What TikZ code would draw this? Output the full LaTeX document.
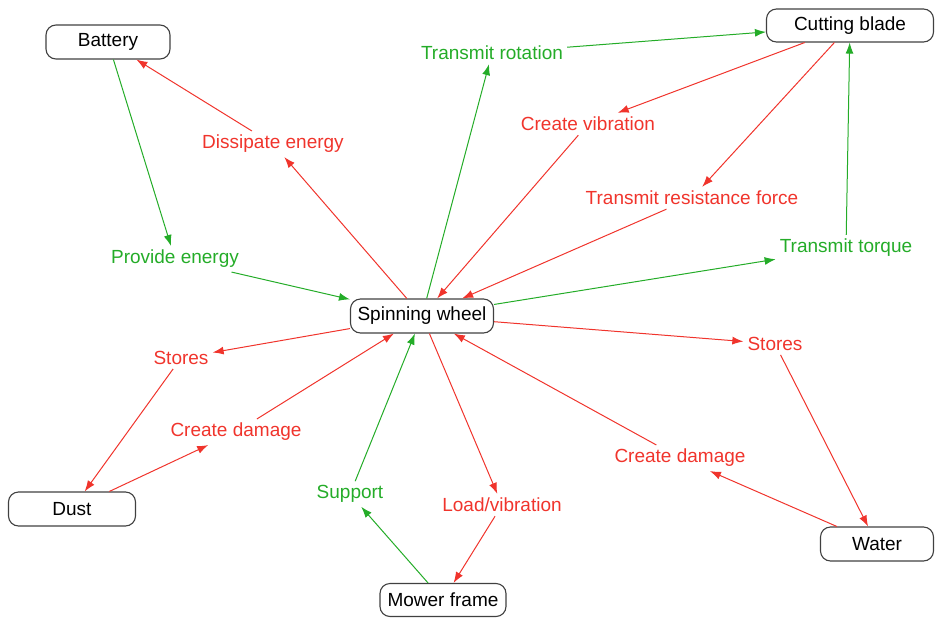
\documentclass[tikz,border=0pt]{standalone}
\usepackage{fontspec}
\setmainfont{Liberation Sans}
\usetikzlibrary{arrows.meta}
\definecolor{harmred}{RGB}{240,52,44}
\definecolor{helpgreen}{RGB}{36,172,40}

\begin{document}
\begin{tikzpicture}[
			x=1pt, y=-1pt,
			font=\fontsize{19}{22}\selectfont,
			main/.style = {draw=black!75, line width=1.1pt, rounded corners=10pt, minimum height=34pt, inner xsep=6pt},
			bad/.style = {text=harmred, inner sep=4pt},
			good/.style = {text=helpgreen, inner sep=4pt},
			badto/.style = {draw=harmred, line width=1pt, -{Latex[length=11pt,width=8pt]}},
			goodto/.style = {draw=helpgreen, line width=1pt, -{Latex[length=11pt,width=8pt]}}
		]
		\useasboundingbox (0,0) rectangle (935,619);
		% components
		\node[main, minimum width=124pt] (1) at (108,42) {Battery};
		\node[main, minimum width=167pt, minimum height=33pt] (2) at (850,25.5) {Cutting blade};
		\node[main, minimum width=143pt] (3) at (422,316) {Spinning wheel};
		\node[main, minimum width=127pt] (4) at (72,509) {Dust};
		\node[main, minimum width=126pt, minimum height=33pt] (5) at (443,600) {Mower frame};
		\node[main, minimum width=113pt] (6) at (877,544) {Water};
		% functions
		\node[bad] (7) at (273,144) {Dissipate energy};
		\node[good] (8) at (175,259) {Provide energy};
		\node[good] (9) at (492,53) {Transmit rotation};
		\node[bad] (10) at (588,124) {Create vibration};
		\node[bad] (11) at (692,198) {Transmit resistance force};
		\node[good] (12) at (846,248) {Transmit torque};
		\node[bad] (13) at (181,358) {Stores};
		\node[bad] (14) at (236,432) {Create damage};
		\node[good] (15) at (350,494) {Support};
		\node[bad] (16) at (502,505) {Load/vibration};
		\node[bad] (17) at (775,344) {Stores};
		\node[bad] (18) at (680,458) {Create damage};
		% battery
		\draw[goodto] (1) -- (8);
		\draw[goodto] (8) -- (3);
		\draw[badto] (3) -- (7);
		\draw[badto] (7) -- (1);
		% blade
		\draw[goodto] (3) -- (9);
		\draw[goodto] (9) -- (2);
		\draw[badto] (2) -- (10);
		\draw[badto] (10) -- (3);
		\draw[badto] (2) -- (11);
		\draw[badto] (11) -- (3);
		\draw[goodto] (3) -- (12);
		\draw[goodto] (12) -- (2);
		% dust
		\draw[badto] (3) -- (13);
		\draw[badto] (13) -- (4);
		\draw[badto] (4) -- (14);
		\draw[badto] (14) -- (3);
		% frame
		\draw[goodto] (5) -- (15);
		\draw[goodto] (15) -- (3);
		\draw[badto] (3) -- (16);
		\draw[badto] (16) -- (5);
		% water
		\draw[badto] (3) -- (17);
		\draw[badto] (17) -- (6);
		\draw[badto] (6) -- (18);
		\draw[badto] (18) -- (3);
	\end{tikzpicture}
\end{document}
